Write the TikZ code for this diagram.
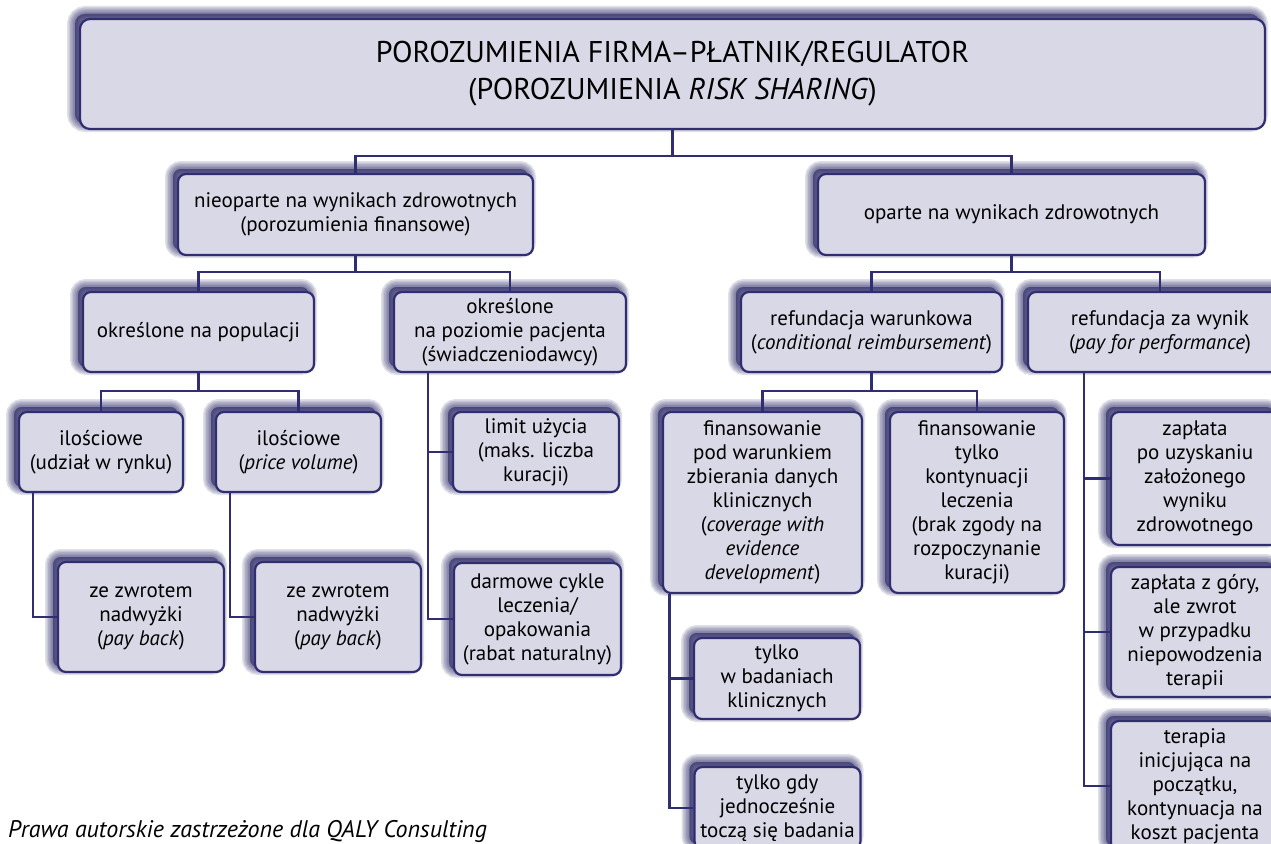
\documentclass[tikz,border=0pt]{standalone}
\usepackage{fontspec}
\setmainfont{PT Sans}
\definecolor{FrameNavy}{RGB}{48, 46, 112}
\definecolor{ShadeNavy}{RGB}{40, 38, 100}
\definecolor{BoxLilac}{RGB}{217, 216, 230}
\usetikzlibrary{shadows}
\newcommand{\boxfont}{\fontsize{21}{24}\selectfont}
\newcommand{\headfont}{\fontsize{30}{37}\selectfont}

\begin{document}
\begin{tikzpicture}[x=1pt, y=-1pt,
    glow/.style={general shadow={draw=ShadeNavy, fill=ShadeNavy, line width=#1,
        opacity=0.14, shadow xshift=-5pt, shadow yshift=5pt}},
    box/.style={draw=FrameNavy, line width=2.2pt, fill=BoxLilac, rounded corners=8pt,
        align=center, inner sep=2pt, font=\boxfont,
        glow=16pt, glow=13pt, glow=10pt, glow=7pt, glow=4pt, glow=1pt},
    link/.style={draw=FrameNavy, line width=2.2pt}]
  \path[use as bounding box, fill=white] (0,0) rectangle (1271,843);

  % Top box
  \node[box, font=\headfont, rounded corners=10pt, minimum width=1185pt, minimum height=110pt] (top) at (672.5,74)
    {POROZUMIENIA FIRMA–PŁATNIK/REGULATOR\\(POROZUMIENIA \textit{RISK SHARING})};

  % Second row
  \node[box, minimum width=355pt, minimum height=81pt] (fin) at (355.5,214.5)
    {nieoparte na wynikach zdrowotnych\\(porozumienia finansowe)};
  \node[box, minimum width=387pt, minimum height=81pt] (out) at (1011.5,214.5)
    {oparte na wynikach zdrowotnych};

  % Third row
  \node[box, minimum width=231pt, minimum height=80pt] (pop) at (198.5,332) {określone na populacji};
  \node[box, minimum width=232pt, minimum height=80pt] (pat) at (510,332)
    {określone\\na poziomie pacjenta\\(świadczeniodawcy)};
  \node[box, minimum width=261pt, minimum height=80pt] (cond) at (871.5,332)
    {refundacja warunkowa\\(\textit{conditional reimbursement})};
  \node[box, minimum width=264pt, minimum height=80pt] (perf) at (1160,332)
    {refundacja za wynik\\(\textit{pay for performance})};

  % Fourth row
  \node[box, minimum width=164pt, minimum height=80pt] (vol) at (101,452) {ilościowe\\(udział w rynku)};
  \node[box, minimum width=165pt, minimum height=80pt] (pv) at (298.5,452) {ilościowe\\(\textit{price volume})};
  \node[box, minimum width=166pt, minimum height=80pt] (lim) at (536,452) {limit użycia\\(maks. liczba\\kuracji)};
  \node[box, minimum width=199pt, minimum height=181pt] (ced) at (762.5,502.5)
    {finansowanie\\pod warunkiem\\zbierania danych\\klinicznych\\(\textit{coverage with}\\\textit{evidence}\\\textit{development})};
  \node[box, minimum width=174pt, minimum height=181pt] (cont) at (977,502.5)
    {finansowanie\\tylko\\kontynuacji\\leczenia\\(brak zgody na\\rozpoczynanie\\kuracji)};
  \node[box, minimum width=168pt, minimum height=133pt] (ach) at (1195,478.5)
    {zapłata\\po uzyskaniu\\założonego\\wyniku\\zdrowotnego};

  % Lower boxes
  \node[box, minimum width=166pt, minimum height=110pt] (pb1) at (141,617) {ze zwrotem\\nadwyżki\\(\textit{pay back})};
  \node[box, minimum width=166pt, minimum height=110pt] (pb2) at (338,617) {ze zwrotem\\nadwyżki\\(\textit{pay back})};
  \node[box, minimum width=167pt, minimum height=112pt] (free) at (537.5,619)
    {darmowe cykle\\leczenia/\\opakowania\\(rabat naturalny)};
  \node[box, minimum width=166pt, minimum height=81pt] (trial) at (777,678.5) {tylko\\w badaniach\\klinicznych};
  \node[box, minimum width=166pt, minimum height=82pt] (conc) at (777.5,808) {tylko gdy\\jednocześnie\\toczą się badania};
  \node[box, minimum width=168pt, minimum height=130pt] (upfr) at (1195,632)
    {zapłata z góry,\\ale zwrot\\w przypadku\\niepowodzenia\\terapii};
  \node[box, minimum width=168pt, minimum height=130pt] (init) at (1195,786)
    {terapia\\inicjująca na\\początku,\\kontynuacja na\\koszt pacjenta};

  % Tree links
  \draw[link] (top.south) -- ++(0,26) -| (fin.north);
  \draw[link] (top.south) -- ++(0,26) -| (out.north);
  \draw[link] (fin.south) -- ++(0,16) -| (pop.north);
  \draw[link] (fin.south) -- ++(0,16) -| (pat.north);
  \draw[link] (out.south) -- ++(0,16) -| (cond.north);
  \draw[link] (out.south) -- ++(0,16) -| (perf.north);
  \draw[link] (pop.south) -- ++(0,18) -| (vol.north);
  \draw[link] (pop.south) -- ++(0,18) -| (pv.north);
  \draw[link] (cond.south) -- ++(0,18) -| (ced.north);
  \draw[link] (cond.south) -- ++(0,18) -| (cont.north);

  % Side links
  \draw[link] ([xshift=15pt]vol.south west) |- (pb1.west);
  \draw[link] ([xshift=15pt]pv.south west) |- (pb2.west);
  \draw[link] ([xshift=35pt]pat.south west) |- (lim.west);
  \draw[link] ([xshift=35pt]pat.south west) |- (free.west);
  \draw[link] ([xshift=7.5pt]ced.south west) |- (trial.west);
  \draw[link] ([xshift=7.5pt]ced.south west) |- (conc.west);
  \draw[link] ([xshift=57pt]perf.south west) |- (ach.west);
  \draw[link] ([xshift=57pt]perf.south west) |- (upfr.west);
  \draw[link] ([xshift=57pt]perf.south west) |- (init.west);

  \node[anchor=base west, inner sep=0pt, font=\fontsize{24}{28}\selectfont\itshape] (copy) at (8,837)
    {Prawa autorskie zastrzeżone dla QALY Consulting};
\end{tikzpicture}
\end{document}
